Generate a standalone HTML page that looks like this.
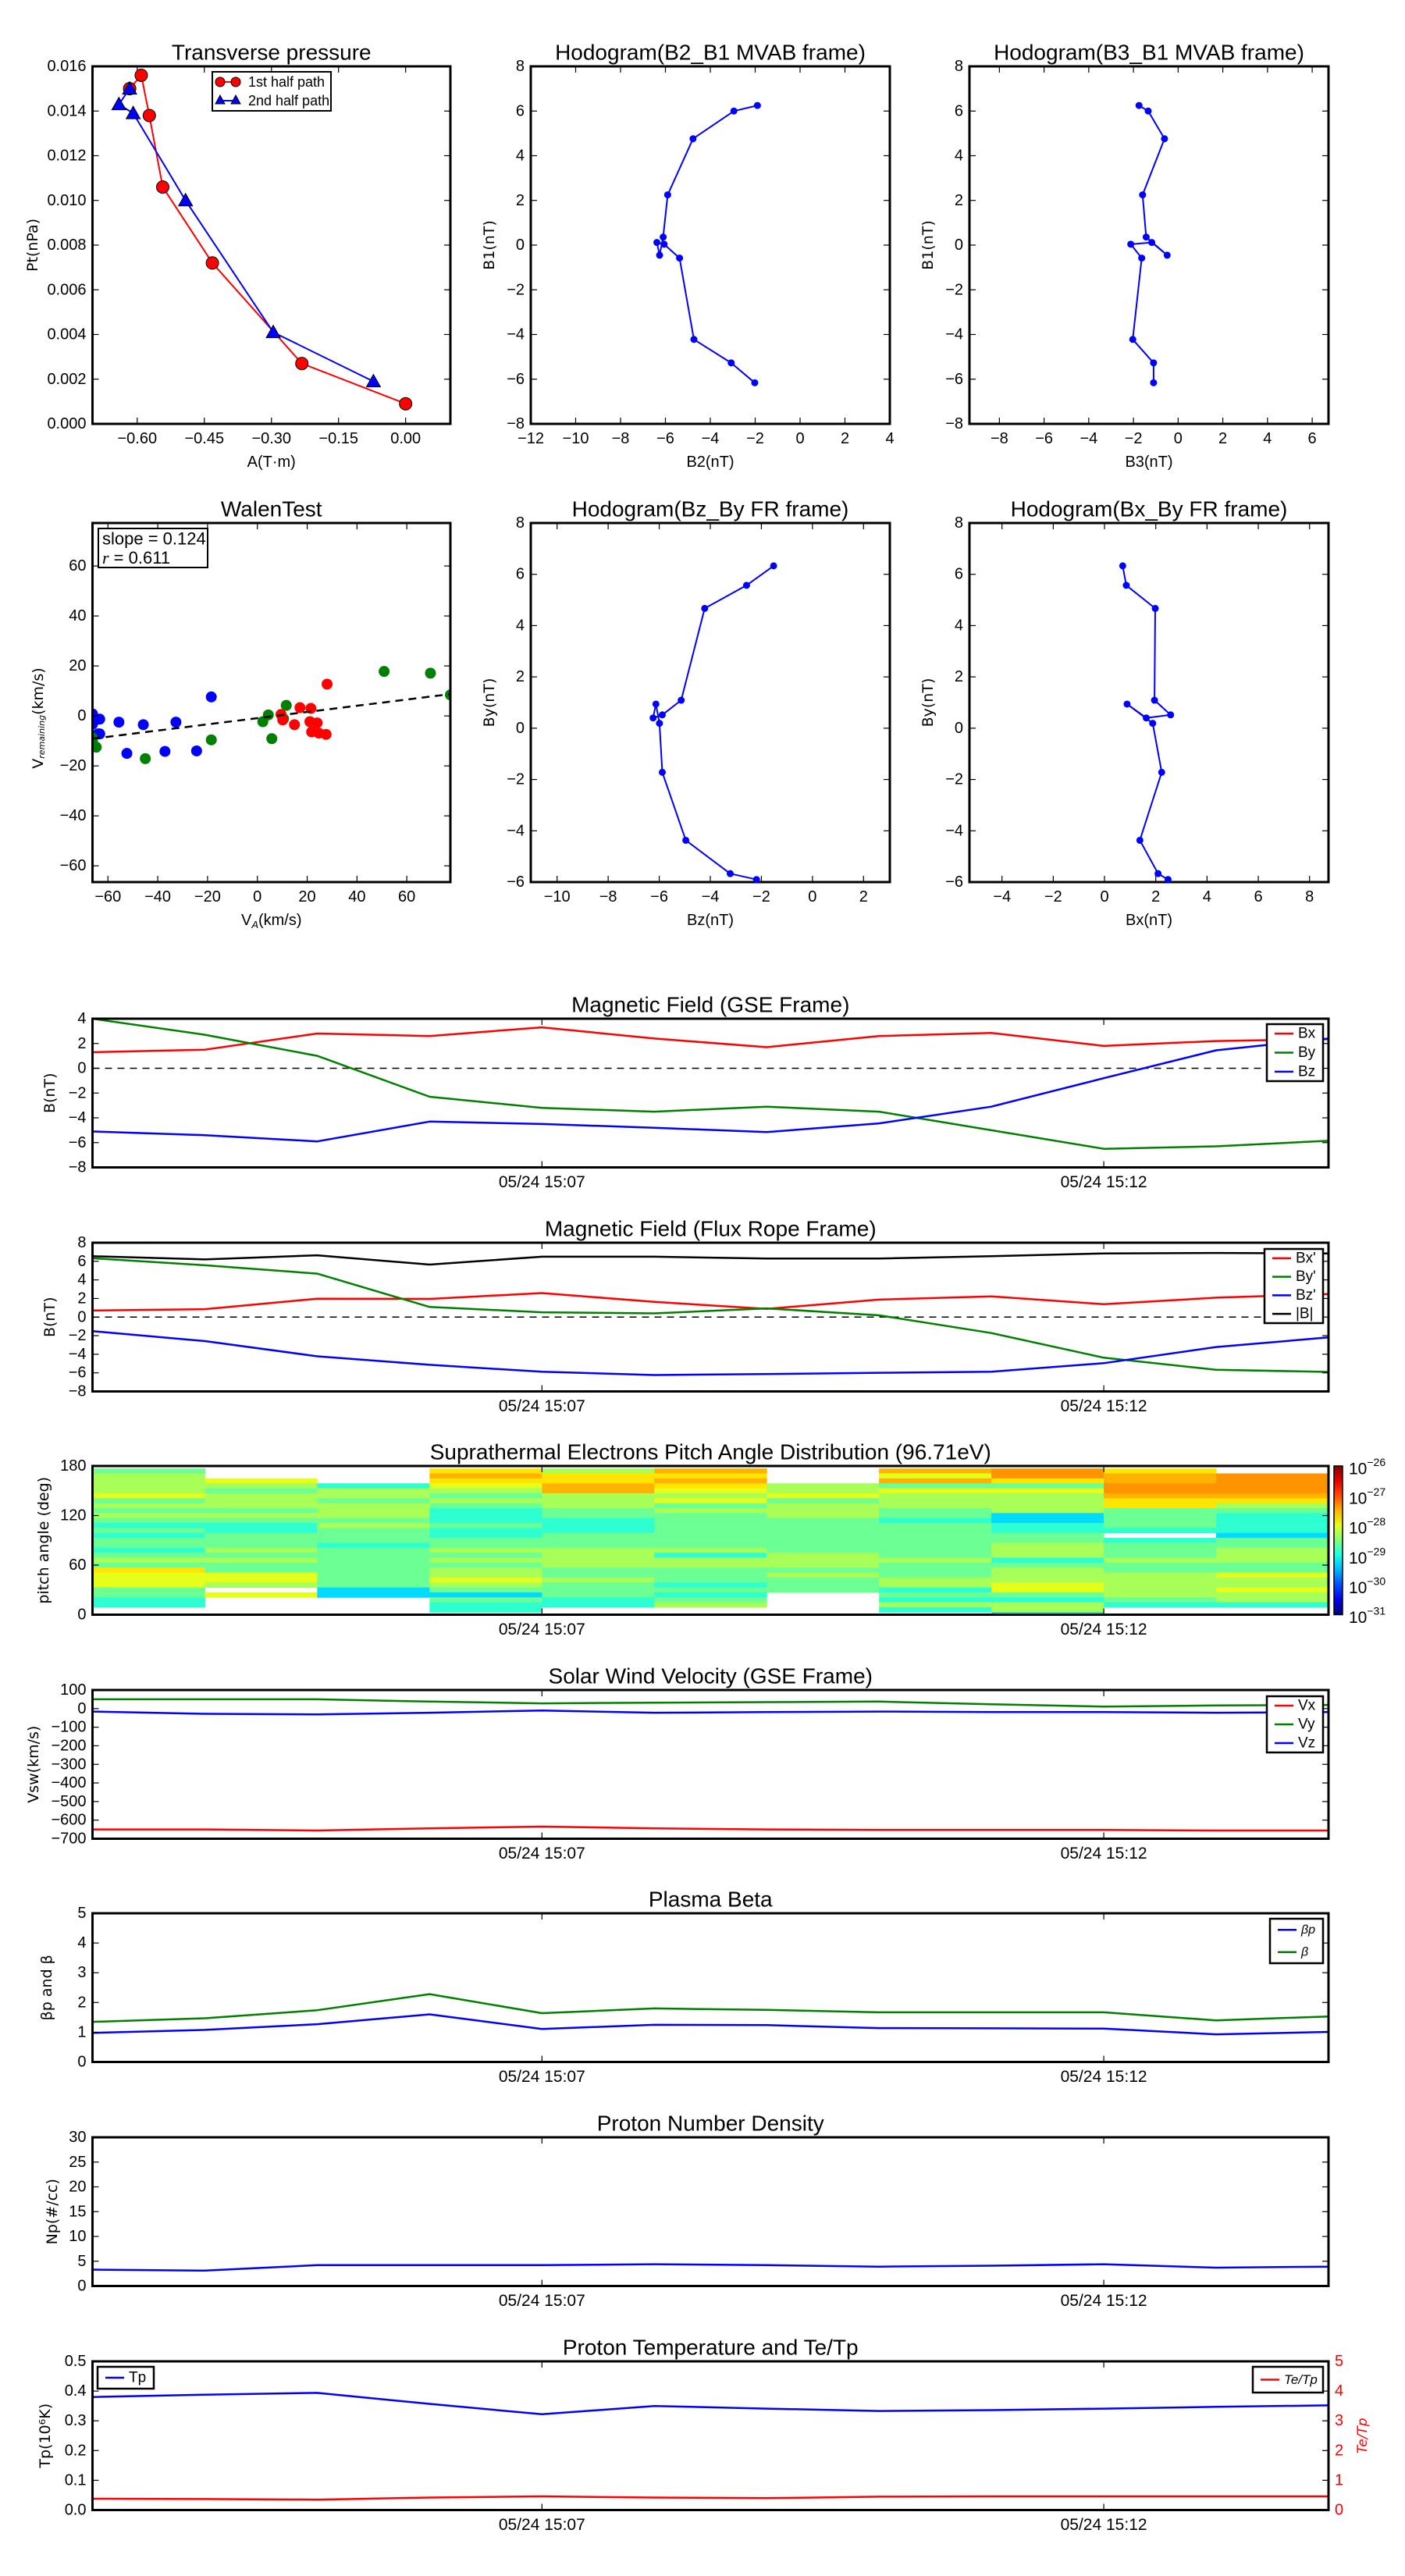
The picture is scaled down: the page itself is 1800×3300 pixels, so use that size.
<!DOCTYPE html>
<html><head><meta charset="utf-8">
<style>
html,body{margin:0;padding:0;background:#fff;}
svg{display:block;}
text{font-family:"Liberation Sans Narrow","Liberation Sans",sans-serif;font-stretch:condensed;}
.lab{font-family:"DejaVu Sans","Liberation Sans",sans-serif;font-stretch:normal;}
</style></head>
<body>
<svg id="fig" xmlns="http://www.w3.org/2000/svg" width="1800" height="3300" viewBox="0 0 1800 3300"></svg>
<script>
// ---------- data ----------
const tpA1 = [-0.617,-0.591,-0.573,-0.543,-0.432,-0.232,0.0];
const tpP1 = [0.0150,0.0156,0.0138,0.0106,0.0072,0.0027,0.0009];
const tpA2 = [-0.617,-0.641,-0.609,-0.492,-0.296,-0.072];
const tpP2 = [0.0150,0.0143,0.0139,0.0100,0.0041,0.0019];
const mvB1 = [6.25,6.0,4.76,2.25,0.36,-0.45,0.12,0.04,-0.58,-4.22,-5.27,-6.16];
const mvB2 = [-1.9,-2.95,-4.77,-5.9,-6.1,-6.26,-6.38,-6.06,-5.37,-4.73,-3.07,-2.02];
const mvB3 = [-1.75,-1.34,-0.61,-1.59,-1.43,-0.49,-1.18,-2.12,-1.63,-2.03,-1.10,-1.10];
const walenBlueX = [-66.2,-66.2,-63.3,-64,-63.3,-55.6,-45.8,-32.7,-18.5,-52.4,-37.1,-24.4];
const walenBlueY = [0.8,-3.3,-1.3,-7.2,-7.2,-2.5,-3.5,-2.5,7.6,-15,-14.2,-14];
const walenGreenX = [-64.7,-66.2,-45,-18.5,2.2,4.4,5.8,10.5,11.6,50.9,69.5,77.5,-66.2];
const walenGreenY = [-12.5,-10,-17.1,-9.6,-2.3,0.4,-9.1,-1.1,4.2,17.8,17.1,8.4,-8.8];
const walenRedX = [9.5,10.2,17.1,21.5,14.9,21.1,24,21.8,24.7,27.6,28];
const walenRedY = [0.6,-1.6,3.3,3,-3.5,-2.3,-2.8,-6.4,-6.9,-7.4,12.7];
const walenSlope = 0.124;
const walenIntercept = -0.9;
const timeMinutes = [3,4,5,6,7,8,9,10,11,12,13,14];
const gseBx = [1.3,1.5,2.8,2.6,3.3,2.4,1.7,2.6,2.85,1.8,2.2,2.35];
const gseBy = [4.0,2.7,1.0,-2.3,-3.2,-3.5,-3.1,-3.5,-5.0,-6.5,-6.3,-5.85];
const gseBz = [-5.1,-5.4,-5.9,-4.3,-4.5,-4.8,-5.15,-4.45,-3.1,-0.8,1.45,2.4];
const frBx = [0.71,0.85,1.98,1.95,2.58,1.63,0.88,1.88,2.23,1.38,2.09,2.48];
const frBy = [6.33,5.57,4.67,1.09,0.52,0.40,0.94,0.19,-1.72,-4.37,-5.67,-5.90];
const frBz = [-1.52,-2.58,-4.22,-5.14,-5.88,-6.24,-6.13,-5.99,-5.88,-4.96,-3.22,-2.19];
const frBt = [6.55,6.2,6.65,5.65,6.5,6.5,6.3,6.3,6.55,6.85,6.9,6.85];
const padCols = [
 "cddddecdcdcbcbccbcdcfeeeccbbnn",
 "nnedcdddcdcbbcccdcdcceednennnn",
 "nnnbddcdddcdcccbccccccccaannnn",
 "fgfedcdcbbbcbbccdcdcddedcacbbn",
 "dffggdddccbbbcccddddccdcccbbn",
 "gfgfedecdcccccccdbddcccbcbcdnn",
 "nnnddecdddcccccccdddcdcccnnnnn",
 "gegcedddccbcccccccdcccddbcbdbn",
 "hhfceddddaabbccdddbcdddeecbdda",
 "fgghhgffccccbnbcccdccdddddcbnn",
 "nhhhhgfdcbbbbaccdddcceddeddbnn"
];
const padLevels = {a:-29.3,b:-28.9,c:-28.6,d:-28.3,e:-28.0,f:-27.75,g:-27.5,h:-27.35};
const swVx = [-650,-650,-656,-644,-635,-644,-650,-653,-653,-653,-656,-656];
const swVy = [50,50,50,38,28,32,35,38,23,11,17,20];
const swVz = [-16,-28,-31,-22,-10,-22,-19,-16,-19,-19,-22,-19];
const betaP = [0.98,1.08,1.27,1.6,1.11,1.25,1.24,1.14,1.13,1.12,0.93,1.01];
const betaT = [1.35,1.47,1.74,2.28,1.64,1.8,1.75,1.67,1.67,1.67,1.4,1.53];
const npVals = [3.3,3.1,4.2,4.2,4.2,4.4,4.2,3.9,4.1,4.4,3.7,3.9];
const tpVals = [0.38,0.388,0.394,0.357,0.322,0.35,0.341,0.333,0.336,0.341,0.347,0.352];
const teTpVals = [0.38,0.37,0.35,0.42,0.46,0.42,0.40,0.45,0.46,0.46,0.46,0.46];
const timeTickMin = [7,12];
const timeTickLabels = ["05/24 15:07","05/24 15:12"];

// ---------- helpers ----------
const NS="http://www.w3.org/2000/svg";
const svg=document.getElementById('fig');
function el(tag,attrs,name,parent,inter){
  const e=document.createElementNS(NS,tag);
  for(const k in attrs) e.setAttribute(k,attrs[k]);
  
  
  (parent||svg).appendChild(e);
  return e;
}
function txt(x,y,s,attrs,name,parent){
  const a=Object.assign({x:x,y:y,'font-size':20,fill:'#000','text-anchor':'middle','dominant-baseline':'central'},attrs||{});
  const t=el('text',a,name,parent);
  t.textContent=s;
  return t;
}
function fmt(v,d){const s=Math.abs(v).toFixed(d);return (v<-1e-9?'\u2212':'')+s;}
function scale(d0,d1,r0,r1){return v=>r0+(v-d0)/(d1-d0)*(r1-r0);}
function axes(name,x0,y0,w,h,xd,yd){
  const g=el('g',{},name);
  const sx=scale(xd[0],xd[1],x0,x0+w), sy=scale(yd[0],yd[1],y0+h,y0);
  return {g,sx,sy,x0,y0,w,h};
}
function frame(A){
  el('rect',{x:A.x0,y:A.y0,width:A.w,height:A.h,fill:'none',stroke:'#000','stroke-width':3},'axes-frame',A.g);
}
function yticks(A,vals,d,opts){
  opts=opts||{};
  vals.forEach(v=>{
    const y=A.sy(v);
    el('line',{x1:A.x0,x2:A.x0+8,y1:y,y2:y,stroke:'#000','stroke-width':1.2},'y-tick',A.g);
    el('line',{x1:A.x0+A.w,x2:A.x0+A.w-8,y1:y,y2:y,stroke:'#000','stroke-width':1.2},'y-tick',A.g);
    txt(A.x0-8,y,fmt(v,d),{'text-anchor':'end','font-size':opts.fs||20},'y-tick-label',A.g);
  });
}
function xticks(A,vals,d){
  vals.forEach(v=>{
    const x=A.sx(v);
    el('line',{x1:x,x2:x,y1:A.y0+A.h,y2:A.y0+A.h-8,stroke:'#000','stroke-width':1.2},'x-tick',A.g);
    el('line',{x1:x,x2:x,y1:A.y0,y2:A.y0+8,stroke:'#000','stroke-width':1.2},'x-tick',A.g);
    txt(x,A.y0+A.h+19,fmt(v,d),{},'x-tick-label',A.g);
  });
}
function poly(A,xs,ys,color,name,w,dash){
  const pts=xs.map((x,i)=>A.sx(x).toFixed(1)+','+A.sy(ys[i]).toFixed(1)).join(' ');
  const a={points:pts,fill:'none',stroke:color,'stroke-width':w||2.5,'stroke-linejoin':'round'};
  if(dash) a['stroke-dasharray']=dash;
  return el('polyline',a,name,A.g);
}
function dots(A,xs,ys,color,r,name){
  xs.forEach((x,i)=>{el('circle',{cx:A.sx(x),cy:A.sy(ys[i]),r:r,fill:color,stroke:'none'},name,A.g);});
}
function ylabel(x,y,s,name,fs){
  txt(x,y,s,{transform:'rotate(-90 '+x+' '+y+')','font-size':fs||19,class:'lab'},name);
}
function title(x,y,s,name){txt(x,y,s,{'font-size':28},name);}
function clip(A,id){
  const cp=el('clipPath',{id:id},'clip-'+id,A.g);
  el('rect',{x:A.x0,y:A.y0,width:A.w,height:A.h},'clip-rect',cp);
  const g=el('g',{'clip-path':'url(#'+id+')'},'plot-area',A.g);
  return g;
}
function legendBox(x,y,w,h,items,name){
  const g=el('g',{},name);
  el('rect',{x:x,y:y,width:w,height:h,fill:'#fff',stroke:'#000','stroke-width':2.5},'legend-frame',g);
  const step=h/items.length;
  items.forEach((it,i)=>{
    const cy=y+step*(i+0.5);
    el('line',{x1:x+10,x2:x+34,y1:cy,y2:cy,stroke:it[1],'stroke-width':2.5},'legend-line',g);
    txt(x+40,cy,it[0],{'text-anchor':'start','font-size':it[2]||19,'font-style':it[3]||'normal'},'legend-label',g);
  });
}

// ---------- Row 1 ----------
const R1y=85, R1h=458, R2y=670, R2h=460;
const C=[[118.5,458.5],[680,460],[1242,460]];

// Transverse pressure
{
 const A=axes('transverse-pressure-chart',C[0][0],R1y,C[0][1],R1h,[-0.7,0.1],[0,0.016]);
 frame(A);
 yticks(A,[0,0.002,0.004,0.006,0.008,0.010,0.012,0.014,0.016],3,{fs:20});
 xticks(A,[-0.6,-0.45,-0.3,-0.15,0],2);
 poly(A,tpA1,tpP1,'#ff0000','first-half-path-line',2);
 poly(A,tpA2,tpP2,'#0000ff','second-half-path-line',2);
 tpA1.forEach((a,i)=>{el('circle',{cx:A.sx(a),cy:A.sy(tpP1[i]),r:8,fill:'#ff0000',stroke:'#000','stroke-width':1},'first-half-marker',A.g);});
 tpA2.forEach((a,i)=>{const x=A.sx(a),y=A.sy(tpP2[i]);el('polygon',{points:`${x},${y-9} ${x-9},${y+7} ${x+9},${y+7}`,fill:'#0000ff',stroke:'#000','stroke-width':1},'second-half-marker',A.g);});
 title(A.x0+A.w/2,67,'Transverse pressure','transverse-pressure-title');
 txt(A.x0+A.w/2,592,'A(T\u00b7m)',{},'x-axis-title');
 ylabel(42,A.y0+A.h/2,'Pt(nPa)','y-axis-title');
 const lg=el('g',{},'pressure-legend');
 el('rect',{x:272,y:92,width:152,height:50,fill:'#fff',stroke:'#000','stroke-width':2},'legend-frame',lg);
 el('line',{x1:282,x2:302,y1:105,y2:105,stroke:'#f00','stroke-width':2},'legend-line',lg);
 el('circle',{cx:282,cy:105,r:6,fill:'#f00',stroke:'#000'},'legend-marker',lg);
 el('circle',{cx:302,cy:105,r:6,fill:'#f00',stroke:'#000'},'legend-marker',lg);
 txt(318,105,'1st half path',{'text-anchor':'start','font-size':18},'legend-label',lg);
 el('line',{x1:282,x2:302,y1:129,y2:129,stroke:'#00f','stroke-width':2},'legend-line',lg);
 el('polygon',{points:'282,122 276,133 288,133',fill:'#00f',stroke:'#000'},'legend-marker',lg);
 el('polygon',{points:'302,122 296,133 308,133',fill:'#00f',stroke:'#000'},'legend-marker',lg);
 txt(318,129,'2nd half path',{'text-anchor':'start','font-size':18},'legend-label',lg);
}
function hodo(name,col,y0,h,xd,yd,xt,yt,xs,ys,ttl,xl,yl,ylx){
 const A=axes(name,C[col][0],y0,C[col][1],h,xd,yd);
 frame(A);
 yticks(A,yt,0);xticks(A,xt,0);
 poly(A,xs,ys,'#0000ff',name+'-line',2);
 dots(A,xs,ys,'#0000ff',4.5,name+'-point');
 title(A.x0+A.w/2,y0-18,ttl,name+'-title');
 txt(A.x0+A.w/2,y0+h+49,xl,{},name+'-x-title');
 ylabel(ylx,y0+h/2,yl,name+'-y-title');
 return A;
}
hodo('hodogram-b2-b1',1,R1y,R1h,[-12,4],[-8,8],[-12,-10,-8,-6,-4,-2,0,2,4],[-8,-6,-4,-2,0,2,4,6,8],mvB2,mvB1,'Hodogram(B2_B1 MVAB frame)','B2(nT)','B1(nT)',627);
hodo('hodogram-b3-b1',2,R1y,R1h,[-9.34,6.73],[-8,8],[-8,-6,-4,-2,0,2,4,6],[-8,-6,-4,-2,0,2,4,6,8],mvB3,mvB1,'Hodogram(B3_B1 MVAB frame)','B3(nT)','B1(nT)',1189);
hodo('hodogram-bz-by',1,R2y,R2h,[-11.03,3.03],[-6,8],[-10,-8,-6,-4,-2,0,2],[-6,-4,-2,0,2,4,6,8],frBz,frBy,'Hodogram(Bz_By FR frame)','Bz(nT)','By(nT)',627);
hodo('hodogram-bx-by',2,R2y,R2h,[-5.27,8.74],[-6,8],[-4,-2,0,2,4,6,8],[-6,-4,-2,0,2,4,6,8],frBx,frBy,'Hodogram(Bx_By FR frame)','Bx(nT)','By(nT)',1189);

// Walen test
{
 const A=axes('walen-test-chart',C[0][0],R2y,C[0][1],R2h,[-66.2,77.5],[-66.5,77.2]);
 const g=clip(A,'walenclip');
 const B={g:g,sx:A.sx,sy:A.sy};
 dots(B,walenBlueX,walenBlueY,'#0000ff',7,'walen-blue-point');
 dots(B,walenGreenX,walenGreenY,'#008000',7,'walen-green-point');
 dots(B,walenRedX,walenRedY,'#ff0000',7,'walen-red-point');
 const lx=[-66.2,77.5], ly=lx.map(x=>walenSlope*x+walenIntercept);
 poly(B,lx,ly,'#000','walen-fit-line',2.5,'10,7');
 frame(A);
 yticks(A,[-60,-40,-20,0,20,40,60],0);xticks(A,[-60,-40,-20,0,20,40,60],0);
 title(A.x0+A.w/2,R2y-18,'WalenTest','walen-test-title');
 const xt=txt(A.x0+A.w/2,R2y+R2h+49,'V',{},'x-axis-title');
 const ts=document.createElementNS(NS,'tspan');ts.setAttribute('font-size','13');ts.setAttribute('dy','5');ts.setAttribute('font-style','italic');ts.textContent='A';xt.appendChild(ts);
 const ts2=document.createElementNS(NS,'tspan');ts2.setAttribute('dy','-5');ts2.textContent='(km/s)';xt.appendChild(ts2);
 const yl=txt(49,A.y0+A.h/2+20,'V',{transform:'rotate(-90 49 '+(A.y0+A.h/2+20)+')','font-size':19,class:'lab'},'y-axis-title');
 const s1=document.createElementNS(NS,'tspan');s1.setAttribute('font-size','11');s1.setAttribute('font-style','italic');s1.setAttribute('dy','4');s1.textContent='remaining';yl.appendChild(s1);
 const s2=document.createElementNS(NS,'tspan');s2.setAttribute('dy','-4');s2.textContent='(km/s)';yl.appendChild(s2);
 const lg=el('g',{},'walen-stats-box');
 el('rect',{x:126,y:677,width:140,height:50,fill:'#fff',stroke:'#000','stroke-width':2},'stats-frame',lg);
 txt(131,690,'slope = 0.124',{'text-anchor':'start','font-size':22},'slope-label',lg);
 const rl=txt(131,714,'',{'text-anchor':'start','font-size':22},'r-label',lg);
 const ri=document.createElementNS(NS,'tspan');ri.setAttribute('font-style','italic');ri.setAttribute('font-family','Liberation Serif');ri.textContent='r';rl.appendChild(ri);
 const rv=document.createElementNS(NS,'tspan');rv.textContent=' = 0.611';rl.appendChild(rv);
}

// ---------- Time series ----------
const TX0=118.5, TW=1583.5, TH=190.5;
const tops=[1305,1592,1878,2165,2451,2738,3025];
function tpanel(name,i,yd,ytv,yd_dec,ttl,ylab,ylx){
 const A=axes(name,TX0,tops[i],TW,TH,[3,14],yd);
 title(TX0+TW/2,tops[i]-18,ttl,name+'-title');
 ylabel(ylx,tops[i]+TH/2,ylab,name+'-y-title');
 A.finish=function(){
  frame(A);
  yticks(A,ytv,yd_dec);
  timeTickMin.forEach((m,k)=>{
   const x=A.sx(m);
   el('line',{x1:x,x2:x,y1:A.y0+A.h,y2:A.y0+A.h-8,stroke:'#000','stroke-width':1.2},'x-tick',A.g);
   el('line',{x1:x,x2:x,y1:A.y0,y2:A.y0+8,stroke:'#000','stroke-width':1.2},'x-tick',A.g);
   txt(x,A.y0+A.h+19,timeTickLabels[k],{'font-size':21},'time-tick-label',A.g);
  });
 };
 return A;
}
// GSE
{
 const A=tpanel('magnetic-field-gse-chart',0,[-8,4],[-8,-6,-4,-2,0,2,4],0,'Magnetic Field (GSE Frame)','B(nT)',64);
 poly(A,[3,14],[0,0],'#000','zero-line',1.5,'9,7');
 poly(A,timeMinutes,gseBx,'#ff0000','bx-line');
 poly(A,timeMinutes,gseBy,'#008000','by-line');
 poly(A,timeMinutes,gseBz,'#0000ff','bz-line');
 A.finish();
 legendBox(1623,1312,72,73,[['Bx','#f00'],['By','#008000'],['Bz','#00f']],'gse-legend');
}
// FR
{
 const A=tpanel('magnetic-field-fr-chart',1,[-8,8],[-8,-6,-4,-2,0,2,4,6,8],0,'Magnetic Field (Flux Rope Frame)','B(nT)',64);
 poly(A,[3,14],[0,0],'#000','zero-line',1.5,'9,7');
 poly(A,timeMinutes,frBx,'#ff0000','bx-prime-line');
 poly(A,timeMinutes,frBy,'#008000','by-prime-line');
 poly(A,timeMinutes,frBz,'#0000ff','bz-prime-line');
 poly(A,timeMinutes,frBt,'#000000','b-magnitude-line');
 A.finish();
 legendBox(1620,1600,75,95,[["Bx'",'#f00'],["By'",'#008000'],["Bz'",'#00f'],['|B|','#000']],'fr-legend');
}
// PAD
function jet(t){
 const c=v=>Math.round(255*Math.max(0,Math.min(1,v)));
 return `rgb(${c(1.5-Math.abs(4*t-3))},${c(1.5-Math.abs(4*t-2))},${c(1.5-Math.abs(4*t-1))})`;
}
{
 const A=tpanel('pitch-angle-chart',2,[0,180],[0,60,120,180],0,'Suprathermal Electrons Pitch Angle Distribution (96.71eV)','pitch angle (deg)',56);
 const g=clip(A,'padclip');
 padCols.forEach((col,c)=>{
  for(let r=0;r<30;r++){
   const ch=col[r];
   if(!ch||!(ch in padLevels)) continue;
   const lv=padLevels[ch];
   const top=Math.min(180,177-6*r), bot=Math.max(0,171-6*r);
   if(top<=0) continue;
   el('rect',{x:A.sx(timeMinutes[c]),y:A.sy(top),width:A.sx(timeMinutes[c+1])-A.sx(timeMinutes[c])+0.5,height:A.sy(bot)-A.sy(top)+0.5,fill:jet((lv+31)/5)},'pad-cell',g);
  }
 });
 A.finish();
 const cb=el('g',{},'colorbar');
 const gd=el('linearGradient',{id:'jetg',x1:0,y1:1,x2:0,y2:0},'colorbar-gradient',cb);
 for(let k=0;k<=10;k++){el('stop',{offset:k/10,'stop-color':jet(k/10)},'gradient-stop',gd);}
 el('rect',{x:1709,y:1878,width:11,height:TH,fill:'url(#jetg)',stroke:'#000','stroke-width':1.5},'colorbar-bar',cb);
 for(let k=0;k<=5;k++){
  const y=1878+TH-k*TH/5;
  const t=txt(1728,y+4,'10',{'text-anchor':'start','font-size':21},'colorbar-tick-label',cb);
  const sp=document.createElementNS(NS,'tspan');sp.setAttribute('font-size','14');sp.setAttribute('dy','-9');sp.textContent='\u2212'+(31-k);t.appendChild(sp);
 }
}
// SW velocity
{
 const A=tpanel('solar-wind-velocity-chart',3,[-700,100],[-700,-600,-500,-400,-300,-200,-100,0,100],0,'Solar Wind Velocity (GSE Frame)','Vsw(km/s)',43);
 poly(A,timeMinutes,swVx,'#ff0000','vx-line');
 poly(A,timeMinutes,swVy,'#008000','vy-line');
 poly(A,timeMinutes,swVz,'#0000ff','vz-line');
 A.finish();
 legendBox(1623,2173,72,72,[['Vx','#f00'],['Vy','#008000'],['Vz','#00f']],'velocity-legend');
}
// Beta
{
 const A=tpanel('plasma-beta-chart',4,[0,5],[0,1,2,3,4,5],0,'Plasma Beta','\u03b2p and \u03b2',60);
 poly(A,timeMinutes,betaP,'#0000ff','beta-p-line');
 poly(A,timeMinutes,betaT,'#008000','beta-line');
 A.finish();
 legendBox(1627,2458,68,57,[['\u03b2p','#00f',16,'italic'],['\u03b2','#008000',16,'italic']],'beta-legend');
}
// Np
{
 const A=tpanel('proton-density-chart',5,[0,30],[0,5,10,15,20,25,30],0,'Proton Number Density','Np(#/cc)',67);
 poly(A,timeMinutes,npVals,'#0000ff','np-line');
 A.finish();
}
// Tp
{
 const A=tpanel('proton-temperature-chart',6,[0,0.5],[0,0.1,0.2,0.3,0.4,0.5],1,'Proton Temperature and Te/Tp','Tp(10\u2076K)',58);
 const sy2=scale(0,5,A.y0+A.h,A.y0);
 const B={g:A.g,sx:A.sx,sy:sy2};
 poly(A,timeMinutes,tpVals,'#0000ff','tp-line');
 poly(B,timeMinutes,teTpVals,'#ff0000','te-tp-line');
 A.finish();
 [0,1,2,3,4,5].forEach(v=>{
  const y=sy2(v);
  txt(A.x0+A.w+8,y,String(v),{'text-anchor':'start',fill:'#f00'},'right-y-tick-label',A.g);
 });
 const yx=1746,yy=A.y0+A.h/2;
 txt(yx,yy,'Te/Tp',{transform:'rotate(-90 '+yx+' '+yy+')','font-size':17,fill:'#f00','font-style':'italic',class:'lab'},'right-y-axis-title');
 legendBox(125,3032,72,28,[['Tp','#00f']],'tp-legend');
 legendBox(1605,3032,90,33,[['Te/Tp','#f00',17,'italic']],'te-tp-legend');
}
</script>
</body></html>
